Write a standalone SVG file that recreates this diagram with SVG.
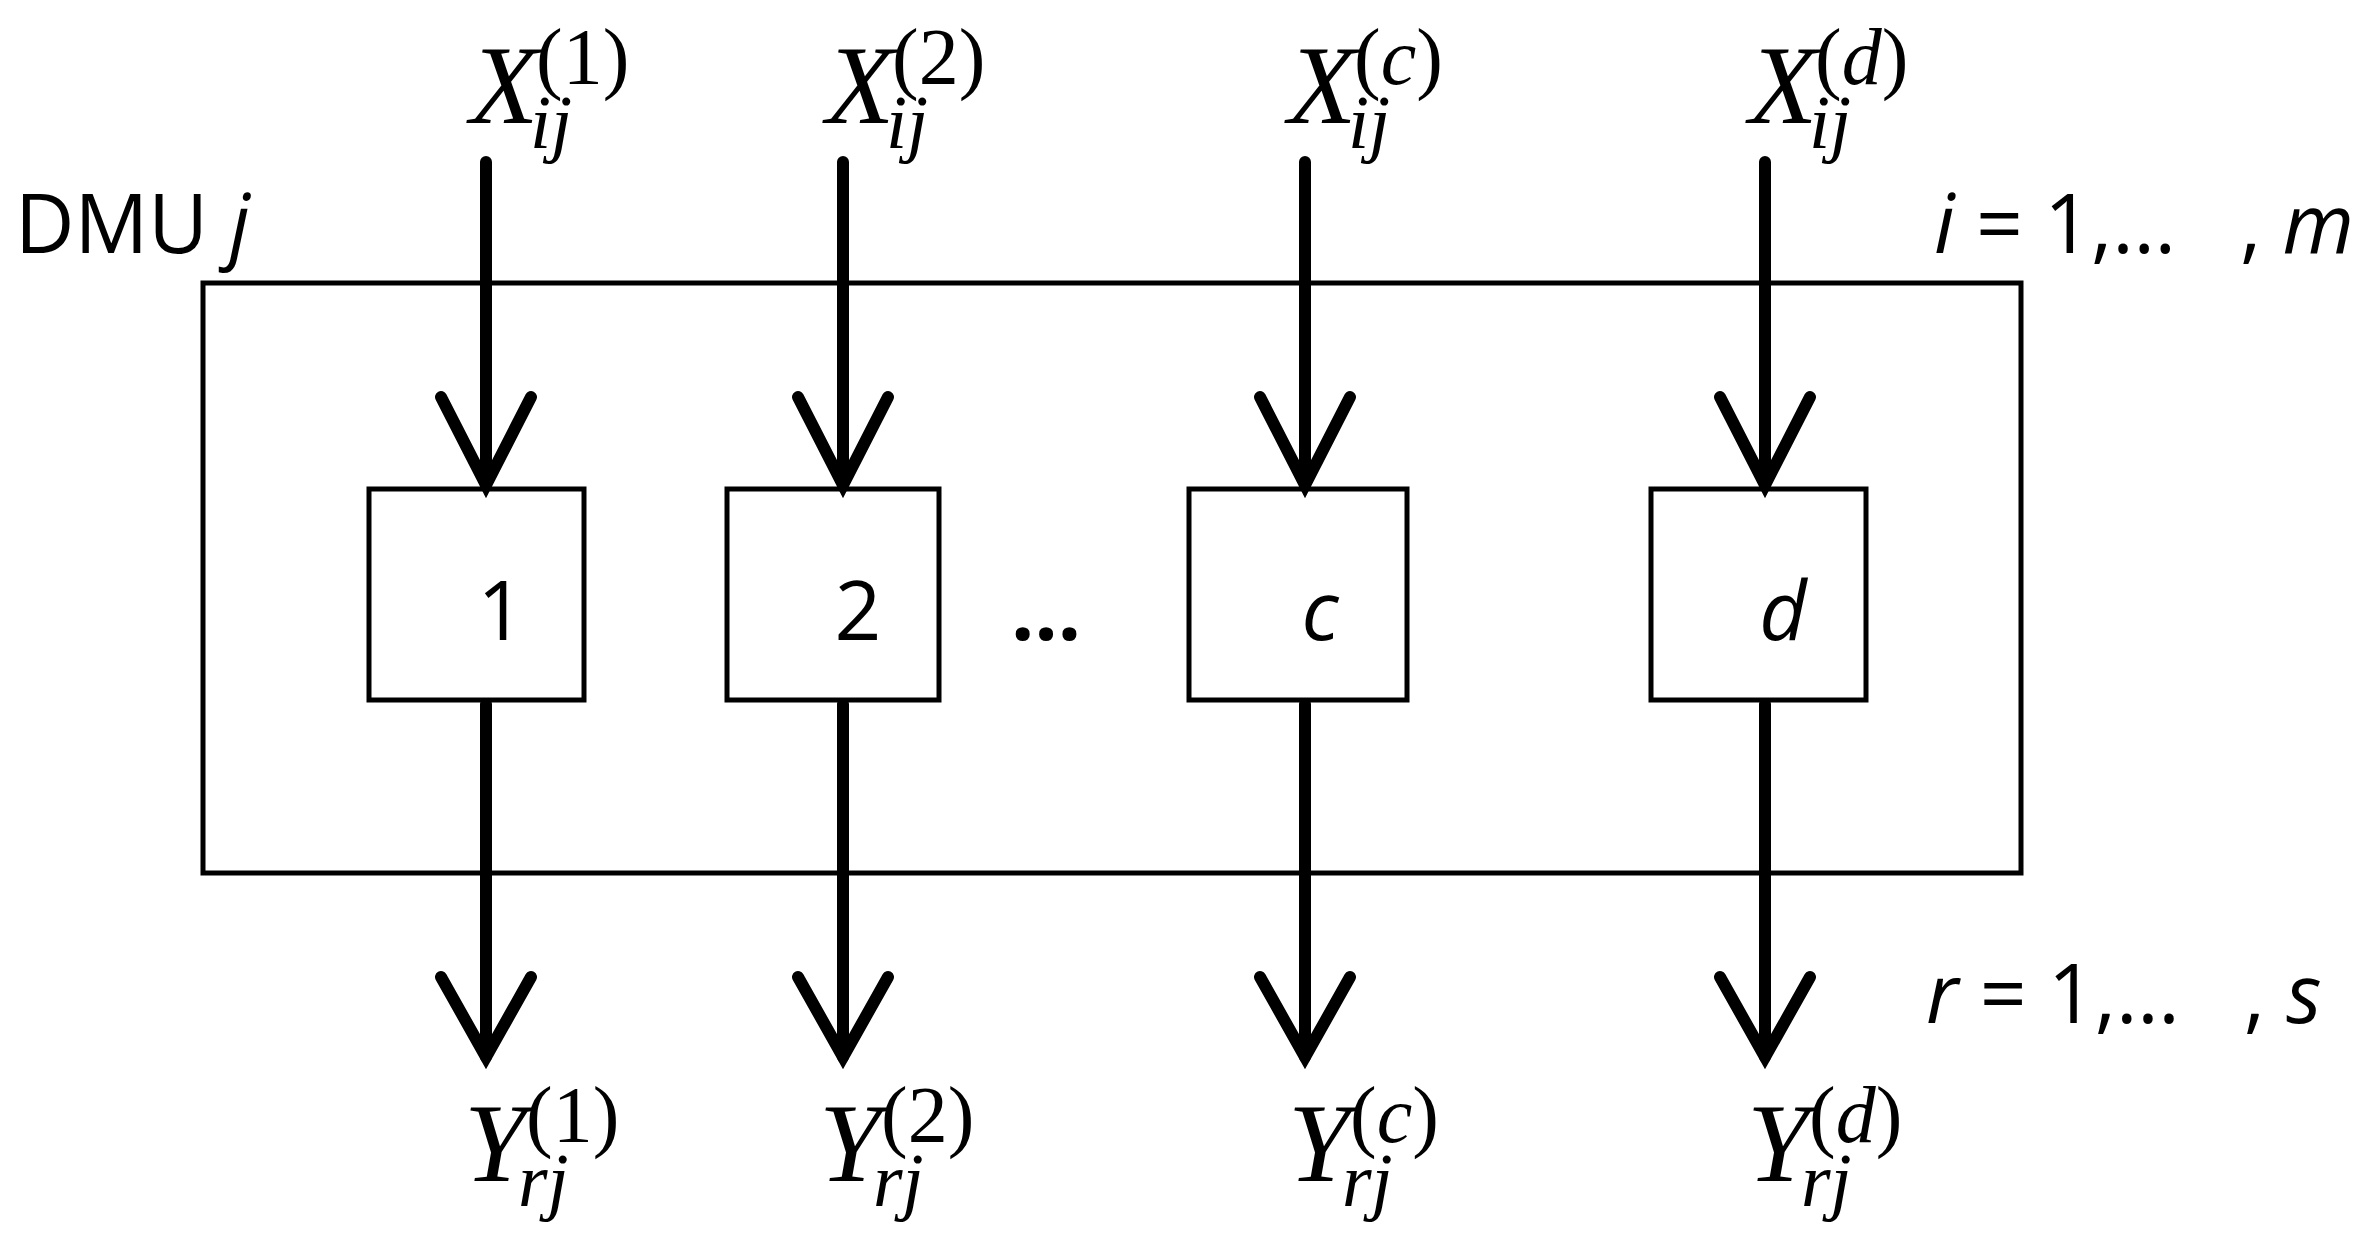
<svg xmlns="http://www.w3.org/2000/svg" width="2360" height="1248" viewBox="0 0 2360 1248">
<style>
.m{font-family:"Liberation Serif",serif;font-style:italic;font-size:112px}
.s{font-family:"Liberation Serif",serif;font-size:80px}
.si{font-family:"Liberation Serif",serif;font-style:italic;font-size:76px}
.t{font-family:"Open Sans","Liberation Sans",sans-serif;font-size:82px;white-space:pre}
.box{fill:none;stroke:#000;stroke-width:5}
.ln{stroke:#000;stroke-width:12;fill:none;stroke-linecap:round}
.hd{stroke:#000;stroke-width:12;fill:none;stroke-linecap:round;stroke-linejoin:miter}
</style>
<rect width="2360" height="1248" fill="#fff"/>
<g id="dmu"><rect class="box" x="203" y="283" width="1818" height="590"/>
<text class="t" x="15" y="253">DMU <tspan font-style="italic">j</tspan></text></g>
<g id="node1"><rect class="box" x="369" y="489" width="215" height="211"/><text class="t" x="501" y="640" text-anchor="middle" font-size="90">1</text></g>
<g id="node2"><rect class="box" x="727" y="489" width="212" height="211"/><text class="t" x="858" y="640" text-anchor="middle" font-size="90">2</text></g>
<g id="nodec"><rect class="box" x="1189" y="489" width="218" height="211"/><text class="t" x="1320" y="640" text-anchor="middle" font-size="90" font-style="italic">c</text></g>
<g id="noded"><rect class="box" x="1651" y="489" width="215" height="211"/><text class="t" x="1783" y="640" text-anchor="middle" font-size="90" font-style="italic">d</text></g>
<text class="t" x="1046" y="640" text-anchor="middle" font-weight="bold">…</text>
<g id="connectors">
<path class="ln" d="M486 162V485M843 162V485M1305 162V485M1765 162V485"/>
<path class="hd" d="M441 397L486 485L531 397M798 397L843 485L888 397M1260 397L1305 485L1350 397M1720 397L1765 485L1810 397"/>
<path class="ln" d="M486 704V1057M843 704V1057M1305 704V1057M1765 704V1057"/>
<path class="hd" d="M441 977L486 1057L531 977M798 977L843 1057L888 977M1260 977L1305 1057L1350 977M1720 977L1765 1057L1810 977"/>
</g>
<g id="labels">
<text class="m" x="470" y="123">X</text><text class="s" x="536" y="84">(1)</text><text class="si" x="530" y="148">ij</text>
<text class="m" x="826" y="123">X</text><text class="s" x="892" y="84">(2)</text><text class="si" x="886" y="148">ij</text>
<text class="m" x="1288" y="123">X</text><text class="s" x="1354" y="84">(<tspan font-style="italic">c</tspan>)</text><text class="si" x="1348" y="148">ij</text>
<text class="m" x="1749" y="123">X</text><text class="s" x="1815" y="84">(<tspan font-style="italic">d</tspan>)</text><text class="si" x="1809" y="148">ij</text>
<text class="m" x="464" y="1181">Y</text><text class="s" x="526" y="1142">(1)</text><text class="si" x="518" y="1206">rj</text>
<text class="m" x="819" y="1181">Y</text><text class="s" x="881" y="1142">(2)</text><text class="si" x="873" y="1206">rj</text>
<text class="m" x="1288" y="1181">Y</text><text class="s" x="1350" y="1142">(<tspan font-style="italic">c</tspan>)</text><text class="si" x="1342" y="1206">rj</text>
<text class="m" x="1747" y="1181">Y</text><text class="s" x="1809" y="1142">(<tspan font-style="italic">d</tspan>)</text><text class="si" x="1801" y="1206">rj</text>
<text class="t" x="1934" y="253"><tspan font-style="italic">i</tspan> = 1,…   , <tspan font-style="italic">m</tspan></text>
<text class="t" x="1926" y="1023"><tspan font-style="italic">r</tspan> = 1,…   , <tspan font-style="italic">s</tspan></text>
</g>
</svg>
